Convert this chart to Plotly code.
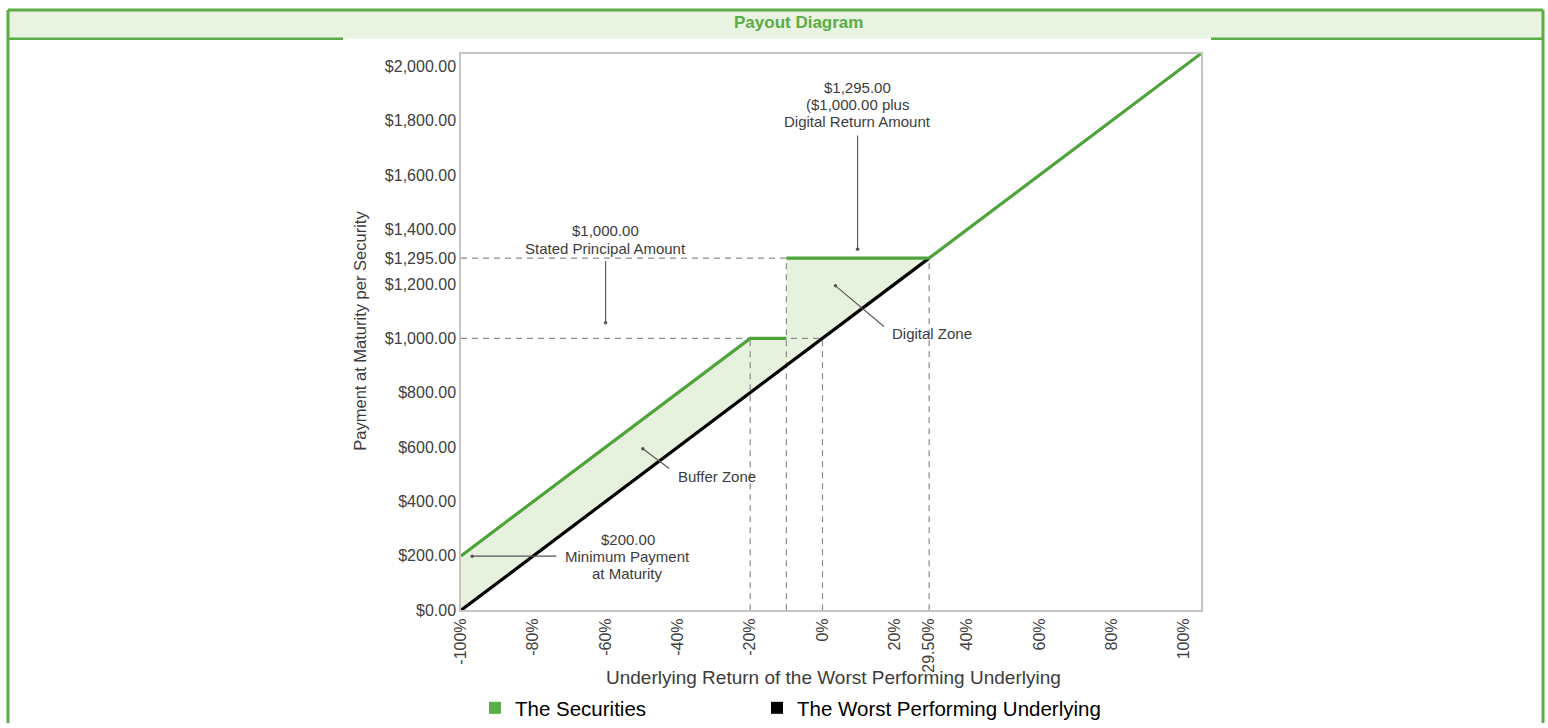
import plotly.graph_objects as go

# ---------------- data ----------------
underlying_return = [-100, 29.5]
underlying_payment = [0, 1295]

securities_return = [-100, -20, -10, None, -10, 29.5, 105]
securities_payment = [200, 1000, 1000, None, 1295, 1295, 2050]

x_tick_values = [-100, -80, -60, -40, -20, 0, 20, 29.5, 40, 60, 80, 100]
x_tick_labels = ["-100%", "-80%", "-60%", "-40%", "-20%", "0%", "20%", "29.50%",
                 "40%", "60%", "80%", "100%"]
y_tick_values = [0, 200, 400, 600, 800, 1000, 1200, 1295, 1400, 1600, 1800, 2000]
y_tick_labels = [f"${v:,.2f}" for v in y_tick_values]

# dashed guide lines: horizontal (level, from, to) and vertical (return, up to level)
guide_h = [(1295, -100, -10), (1000, -100, 0)]
guide_v = [(-20, 1000), (-10, 1295), (0, 1000), (29.5, 1295)]

# ---------------- layout helpers ----------------
W, H = 1548, 728
FONT = "Liberation Sans, Arial, Helvetica, sans-serif"
GREEN = "#4fa33b"
FILL = "#e7f2de"
TXT = "#3c3c3c"


def fx(px):
    return px / W


def fy(py):
    return 1 - py / H


fig = go.Figure()

# shaded zone between the securities payout and the underlying (up to 29.5%)
cap = underlying_return[-1]
poly_x, poly_y = [], []
for r, p in zip(securities_return, securities_payment):
    if r is not None and r <= cap:
        poly_x.append(r)
        poly_y.append(p)
poly_x += underlying_return[::-1]
poly_y += underlying_payment[::-1]
fig.add_trace(go.Scatter(x=poly_x, y=poly_y, mode="lines", fill="toself",
                         fillcolor=FILL, line=dict(width=0), hoverinfo="skip",
                         showlegend=False))

# dashed guides
gx, gy = [], []
for lvl, a, b in guide_h:
    gx += [a, b, None]
    gy += [lvl, lvl, None]
for r, lvl in guide_v:
    gx += [r, r, None]
    gy += [0, lvl, None]
fig.add_trace(go.Scatter(x=gx, y=gy, mode="lines", hoverinfo="skip", showlegend=False,
                         line=dict(color="#8c8c8c", width=1.2, dash="6px,5px")))

# lines
fig.add_trace(go.Scatter(x=underlying_return, y=underlying_payment, mode="lines",
                         line=dict(color="#000000", width=3.2), showlegend=False,
                         name="The Worst Performing Underlying"))
fig.add_trace(go.Scatter(x=securities_return, y=securities_payment, mode="lines",
                         line=dict(color=GREEN, width=3.2), connectgaps=False,
                         showlegend=False, name="The Securities"))

# legend entries (square markers), each in its own legend box
fig.add_trace(go.Scatter(x=[None], y=[None], mode="markers", name="The Securities",
                         legend="legend",
                         marker=dict(symbol="square", size=12, color="#5aae46")))
fig.add_trace(go.Scatter(x=[None], y=[None], mode="markers",
                         name="The Worst Performing Underlying", legend="legend2",
                         marker=dict(symbol="square", size=12, color="#000000")))

annotations = []


def text(x, y, s, size=15, xanchor="center", xref="x", yref="y", color=TXT, **kw):
    annotations.append(dict(x=x, y=y, xref=xref, yref=yref, text=s, showarrow=False,
                            xanchor=xanchor, yanchor="middle",
                            font=dict(family=FONT, size=size, color=color), **kw))


def pointer(x_tail, y_tail, x_head, y_head):
    annotations.append(dict(x=x_head, y=y_head, ax=x_tail, ay=y_tail, xref="x", yref="y",
                            axref="x", ayref="y", text="", showarrow=True,
                            arrowhead=6, arrowsize=0.8, arrowwidth=1.1,
                            arrowcolor="#555555", standoff=0, startstandoff=0))


# callouts
text(9.7, 1923, "$1,295.00")
text(9.7, 1861, "($1,000.00 plus")
text(9.7, 1799, "Digital Return Amount")
pointer(9.7, 1751, 9.7, 1328)

text(-60, 1395, "$1,000.00")
text(-60, 1331, "Stated Principal Amount")
pointer(-60, 1290, -60, 1057)

text(18.8, 1017, "Digital Zone", xanchor="left")
pointer(17.4, 1039, 3.6, 1193)

text(-40.6, 491, "Buffer Zone", xanchor="left")
pointer(-42, 517, -49.7, 594)

text(-53.9, 261, "$200.00")
text(-53.9, 199, "Minimum Payment")
text(-53.9, 137, "at Maturity")
pointer(-73.2, 199, -96.9, 199)

# axis titles
text(fx(833), fy(682), "Underlying Return of the Worst Performing Underlying", size=19,
     xref="paper", yref="paper")
text(fx(360), fy(333), "Payment at Maturity per Security", size=16.5,
     xref="paper", yref="paper", textangle=-90)

# header title
text(fx(798), fy(23), "<b>Payout Diagram</b>", size=17, xref="paper", yref="paper",
     color="#5aac44")

BORDER = "#5aac44"
shapes = [
    dict(type="rect", xref="paper", yref="paper", x0=fx(8), x1=fx(1543), y0=fy(39),
         y1=fy(10), fillcolor="#e9f3e1", line=dict(width=0), layer="below"),
    dict(type="line", xref="paper", yref="paper", x0=fx(8), x1=fx(1543), y0=fy(10),
         y1=fy(10), line=dict(color=BORDER, width=3)),
    dict(type="line", xref="paper", yref="paper", x0=fx(8), x1=fx(8), y0=fy(10),
         y1=0, line=dict(color=BORDER, width=3)),
    dict(type="line", xref="paper", yref="paper", x0=fx(1543), x1=fx(1543), y0=fy(10),
         y1=0, line=dict(color=BORDER, width=3)),
    dict(type="line", xref="paper", yref="paper", x0=fx(8), x1=fx(343), y0=fy(39),
         y1=fy(39), line=dict(color=BORDER, width=2.5)),
    dict(type="line", xref="paper", yref="paper", x0=fx(1211), x1=fx(1543), y0=fy(39),
         y1=fy(39), line=dict(color=BORDER, width=2.5)),
]

axis_common = dict(showgrid=False, zeroline=False, showline=True, mirror=True,
                   linecolor="#c4c4c4", linewidth=1.5, ticks="", automargin=False,
                   tickfont=dict(family=FONT, size=16, color="#404040"))

legend_common = dict(orientation="h", xanchor="left", yanchor="middle",
                     font=dict(family=FONT, size=20.5, color="#000000"),
                     bgcolor="rgba(0,0,0,0)", itemwidth=30)

fig.update_layout(
    width=W, height=H,
    margin=dict(l=0, r=0, t=0, b=0),
    paper_bgcolor="white", plot_bgcolor="white",
    xaxis=dict(domain=[fx(461), fx(1201)], range=[-100, 104.7],
               tickmode="array", tickvals=x_tick_values, ticktext=x_tick_labels,
               tickangle=-90, **axis_common),
    yaxis=dict(domain=[fy(614.5), fy(54)], range=[0, 2047],
               tickmode="array", tickvals=y_tick_values, ticktext=y_tick_labels,
               **axis_common),
    showlegend=True,
    legend=dict(x=fx(475), y=fy(713), **legend_common),
    legend2=dict(x=fx(757), y=fy(713), **legend_common),
    annotations=annotations,
    shapes=shapes,
)

fig.write_html("out.html", config={"displayModeBar": False},
               post_script="document.body.style.margin='0px';")
